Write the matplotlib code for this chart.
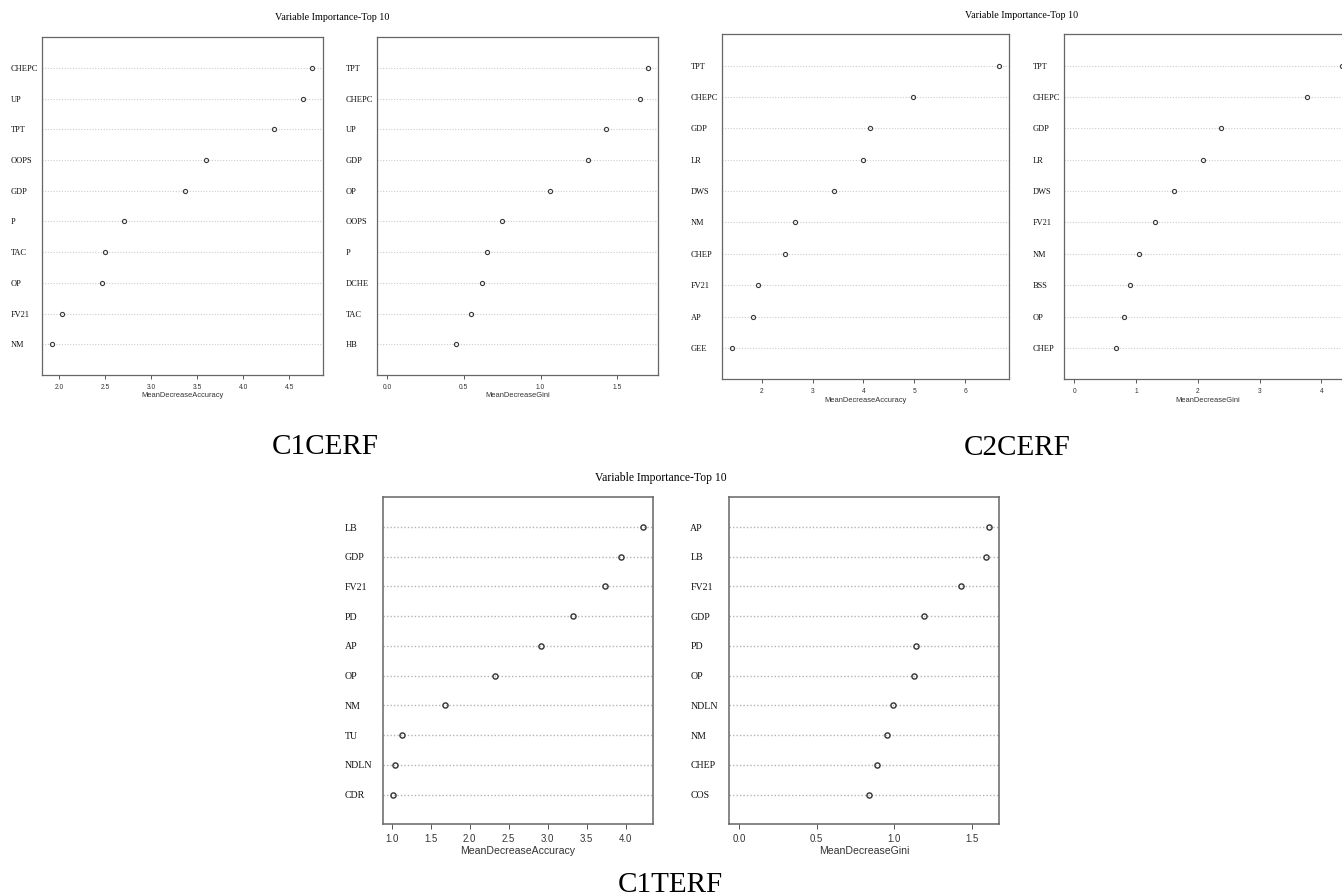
import matplotlib
matplotlib.use('Agg')
import matplotlib.pyplot as plt
import numpy as np

# values (top 10 variable importance, random forest)
c1cerf_acc_labels = ['CHEPC', 'UP', 'TPT', 'OOPS', 'GDP', 'P', 'TAC', 'OP', 'FV21', 'NM']
c1cerf_acc = [4.75, 4.65, 4.33, 3.59, 3.37, 2.70, 2.49, 2.46, 2.03, 1.92]
c1cerf_gini_labels = ['TPT', 'CHEPC', 'UP', 'GDP', 'OP', 'OOPS', 'P', 'DCHE', 'TAC', 'HB']
c1cerf_gini = [1.70, 1.65, 1.43, 1.31, 1.06, 0.75, 0.65, 0.62, 0.55, 0.45]

c2cerf_acc_labels = ['TPT', 'CHEPC', 'GDP', 'LR', 'DWS', 'NM', 'CHEP', 'FV21', 'AP', 'GEE']
c2cerf_acc = [6.66, 4.97, 4.12, 3.99, 3.42, 2.65, 2.45, 1.92, 1.83, 1.42]
c2cerf_gini_labels = ['TPT', 'CHEPC', 'GDP', 'LR', 'DWS', 'FV21', 'NM', 'BSS', 'OP', 'CHEP']
c2cerf_gini = [4.33, 3.76, 2.38, 2.08, 1.62, 1.31, 1.05, 0.90, 0.80, 0.68]

c1terf_acc_labels = ['LB', 'GDP', 'FV21', 'PD', 'AP', 'OP', 'NM', 'TU', 'NDLN', 'CDR']
c1terf_acc = [4.22, 3.94, 3.74, 3.32, 2.91, 2.33, 1.68, 1.13, 1.04, 1.02]
c1terf_gini_labels = ['AP', 'LB', 'FV21', 'GDP', 'PD', 'OP', 'NDLN', 'NM', 'CHEP', 'COS']
c1terf_gini = [1.61, 1.59, 1.43, 1.19, 1.14, 1.13, 0.99, 0.95, 0.89, 0.84]

acc_ticks_c1c = [2.0, 2.5, 3.0, 3.5, 4.0, 4.5]
gini_ticks_c1c = [0.0, 0.5, 1.0, 1.5]
acc_ticks_c2c = [2, 3, 4, 5, 6]
gini_ticks_c2c = [0, 1, 2, 3, 4]
acc_ticks_c1t = [1.0, 1.5, 2.0, 2.5, 3.0, 3.5, 4.0]
gini_ticks_c1t = [0.0, 0.5, 1.0, 1.5]

W, H = 1342, 896
SERIF = 'Liberation Serif'
SANS = 'Liberation Sans'


def px_axes(fig, left, top, right, bottom):
    return fig.add_axes([left / W, 1 - bottom / H, (right - left) / W, (bottom - top) / H])


def dotchart(ax, labels, values, ticks, xlabel, gini, small):
    n = len(values)
    ypos = np.arange(n, 0, -1)
    lo = 0 if gini else min(values)
    hi = max(values)
    span = hi - lo
    ax.set_xlim(lo - 0.04 * span, hi + 0.04 * span)
    ax.set_ylim(0, n + 1)
    xl = ax.get_xlim()
    ax.hlines(ypos, xl[0], xl[1], colors='#cccccc' if small else '#b4b4b4',
              linestyles=(0, (1, 1.5)), linewidth=0.8 if small else 1.0, zorder=1)
    ms = 3.0 if small else 3.7
    ax.plot(values, ypos, 'o', mfc='none', mec='#3a3a3a', mew=0.8 if small else 1.05, ms=ms, zorder=3)

    lab_fs = 6.0 if small else 7.1
    tick_fs = 4.8 if small else 6.9
    xlab_fs = 5.4 if small else 7.6
    lab_pad = 22.3 if small else 27.8
    ax.set_yticks(ypos)
    ax.set_yticklabels(labels, fontfamily=SERIF, fontsize=lab_fs, ha='left', color='#111111')
    ax.tick_params(axis='y', length=0, pad=lab_pad)
    ax.set_xticks(ticks)
    if isinstance(ticks[0], float):
        ax.set_xticklabels([f'{t:.1f}' for t in ticks])
    ax.tick_params(axis='x', length=3.2 if small else 3.6, width=0.7, color='#555555',
                   labelsize=tick_fs, labelcolor='#333333', pad=3.2 if small else 3.6)
    for lab in ax.get_xticklabels():
        lab.set_fontfamily(SANS)
    ax.set_xlabel(xlabel, fontfamily=SANS, fontsize=xlab_fs, color='#333333', labelpad=1.0 if small else 1.5)
    for sp in ax.spines.values():
        sp.set_color('#666666')
        sp.set_linewidth(0.9 if small else 1.1)


fig = plt.figure(figsize=(W / 100, H / 100), dpi=100)
fig.patch.set_facecolor('white')

ax1 = px_axes(fig, 41.7, 37.3, 322.7, 375)
dotchart(ax1, c1cerf_acc_labels, c1cerf_acc, acc_ticks_c1c, 'MeanDecreaseAccuracy', False, True)
ax2 = px_axes(fig, 376.7, 37.3, 658.3, 375)
dotchart(ax2, c1cerf_gini_labels, c1cerf_gini, gini_ticks_c1c, 'MeanDecreaseGini', True, True)

ax3 = px_axes(fig, 721.7, 34.3, 1009.3, 379.3)
dotchart(ax3, c2cerf_acc_labels, c2cerf_acc, acc_ticks_c2c, 'MeanDecreaseAccuracy', False, True)
ax4 = px_axes(fig, 1063.7, 34.3, 1352.5, 379.3)
dotchart(ax4, c2cerf_gini_labels, c2cerf_gini, gini_ticks_c2c, 'MeanDecreaseGini', True, True)

ax5 = px_axes(fig, 383.3, 497.3, 652.7, 824.3)
dotchart(ax5, c1terf_acc_labels, c1terf_acc, acc_ticks_c1t, 'MeanDecreaseAccuracy', False, False)
ax6 = px_axes(fig, 729, 497.3, 999, 824.3)
dotchart(ax6, c1terf_gini_labels, c1terf_gini, gini_ticks_c1t, 'MeanDecreaseGini', True, False)

title = 'Variable Importance-Top 10'
fig.text(332 / W, 1 - 17 / H, title, fontfamily=SERIF, fontsize=7.3, ha='center', va='center')
fig.text(1022 / W, 1 - 16 / H, title, fontfamily=SERIF, fontsize=7.2, ha='center', va='center')
fig.text(661 / W, 1 - 478 / H, title, fontfamily=SERIF, fontsize=8.4, ha='center', va='center')

fig.text(325.5 / W, 1 - 454.3 / H, 'C1CERF', fontfamily=SERIF, fontsize=21, ha='center', va='baseline')
fig.text(1017.5 / W, 1 - 455 / H, 'C2CERF', fontfamily=SERIF, fontsize=21, ha='center', va='baseline')
fig.text(670.7 / W, 1 - 892 / H, 'C1TERF', fontfamily=SERIF, fontsize=21, ha='center', va='baseline')

fig.savefig('out.png', dpi=100, facecolor='white')
